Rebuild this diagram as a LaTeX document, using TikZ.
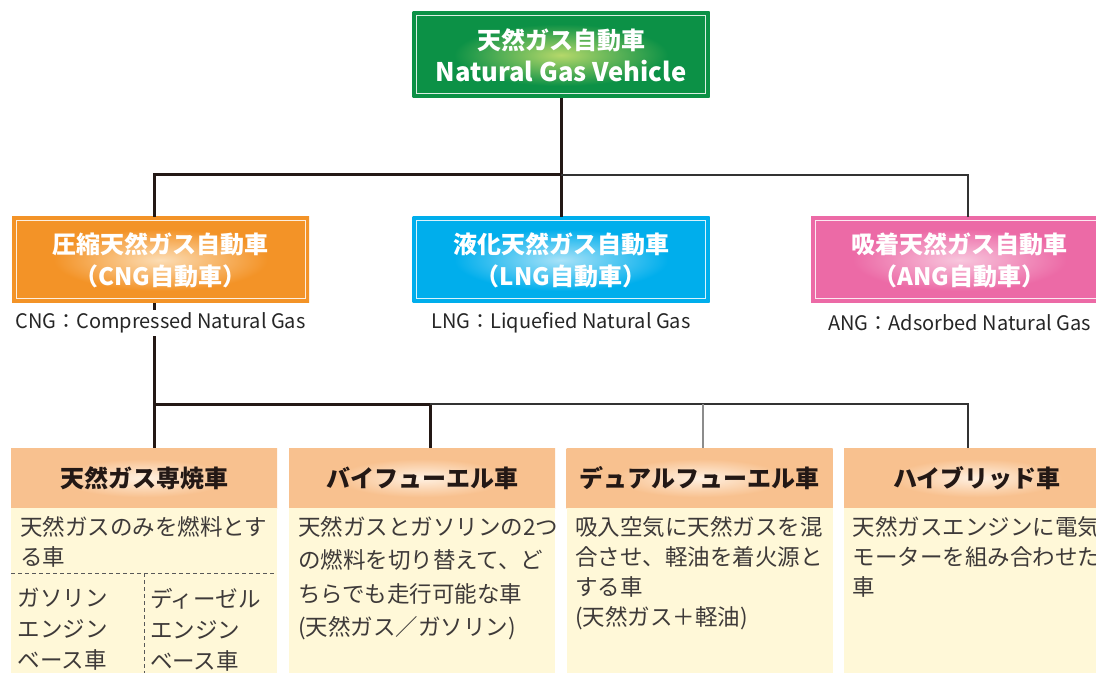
\documentclass[tikz,border=0pt]{standalone}
\usepackage{fontspec}
\setmainfont{Noto Sans CJK JP}
\usetikzlibrary{positioning}

\definecolor{ngvgreen}{HTML}{0C9146}
\definecolor{ngvgreenlt}{HTML}{B5D86A}
\definecolor{cngorange}{HTML}{F39327}
\definecolor{cngorangelt}{HTML}{FCDDB5}
\definecolor{lngblue}{HTML}{00AEEC}
\definecolor{lngbluelt}{HTML}{A8E2F8}
\definecolor{angpink}{HTML}{EC6AA6}
\definecolor{angpinklt}{HTML}{F8C6DD}
\definecolor{headpeach}{HTML}{F8C18F}
\definecolor{headpeachlt}{HTML}{FFF1E2}
\definecolor{bodycream}{HTML}{FFF8D8}
\definecolor{linedark}{HTML}{231815}
\definecolor{textgray}{HTML}{3E3A39}

\pgfdeclareradialshading{glowgreen}{\pgfpointorigin}{color(0bp)=(ngvgreenlt); color(18bp)=(ngvgreen); color(50bp)=(ngvgreen)}
\pgfdeclareradialshading{gloworange}{\pgfpointorigin}{color(0bp)=(cngorangelt); color(18bp)=(cngorange); color(50bp)=(cngorange)}
\pgfdeclareradialshading{glowblue}{\pgfpointorigin}{color(0bp)=(lngbluelt); color(18bp)=(lngblue); color(50bp)=(lngblue)}
\pgfdeclareradialshading{glowpink}{\pgfpointorigin}{color(0bp)=(angpinklt); color(18bp)=(angpink); color(50bp)=(angpink)}
\pgfdeclareradialshading{glowpeach}{\pgfpointorigin}{color(0bp)=(headpeachlt); color(16bp)=(headpeach); color(50bp)=(headpeach)}

\begin{document}
\begin{tikzpicture}[x=0.5pt,y=-0.5pt,
  every node/.style={outer sep=0pt},
  kind/.style={minimum width=148.5pt,minimum height=43pt,align=center,text=white,
    font=\bfseries\fontsize{12}{16}\selectfont,
    path picture={\draw[white,line width=0.5pt,opacity=0.85]
      ([shift={(2pt,-2pt)}]path picture bounding box.north west) rectangle
      ([shift={(-2pt,2pt)}]path picture bounding box.south east);}},
  capt/.style={fill=white,inner sep=1.5pt,text=black!85,font=\fontsize{10}{11}\selectfont},
  hdr/.style={minimum width=133pt,minimum height=30pt,shading=glowpeach,text=linedark,
    font=\bfseries\fontsize{12}{14}\selectfont},
  bdy/.style={minimum width=133pt,minimum height=83pt,fill=bodycream},
  btxt/.style={anchor=north west,inner sep=0pt,align=left,text=textgray,
    font=\fontsize{11.25}{15}\selectfont},
  thickln/.style={line width=1.5pt,draw=linedark},
  thinln/.style={line width=0.6pt,draw=black!80},
  grayln/.style={line width=1pt,draw=black!45},
  dashln/.style={line width=0.5pt,draw=black!65,dash pattern=on 2pt off 1.5pt}]

\useasboundingbox (0,0) rectangle (1096,673);
\clip (0,0) rectangle (1096,673);

% first and second level
\node[kind,shading=glowgreen] (nat) at (561,55)
  {天然ガス自動車\\{\fontsize{12.8}{16}\selectfont Natural Gas Vehicle}};
\node[kind,shading=gloworange] (cng) at (160.5,260) {圧縮天然ガス自動車\\（CNG自動車）};
\node[kind,shading=glowblue] (lng) at (561,260) {液化天然ガス自動車\\（LNG自動車）};
\node[kind,shading=glowpink] (ang) at (959.5,260) {吸着天然ガス自動車\\（ANG自動車）};

% third level
\node[hdr] (dedi) at (144,478) {天然ガス専焼車};
\node[bdy,below=0pt of dedi] (dedib) {};
\node[hdr] (bifu) at (422,478) {バイフューエル車};
\node[bdy,below=0pt of bifu] (bifub) {};
\node[hdr] (dual) at (699.5,478) {デュアルフューエル車};
\node[bdy,below=0pt of dual] (dualb) {};
\node[hdr] (hyb) at (977,478) {ハイブリッド車};
\node[bdy,below=0pt of hyb] (hybb) {};

% junctions
\coordinate (t0) at (561,175);
\coordinate (t1) at (154,175);
\coordinate (t2) at (968,175);
\coordinate (b1) at (154,404);
\coordinate (b2) at (430,404);
\coordinate (b3) at (703,404);
\coordinate (b4) at (968,404);

\draw[thickln] (nat) -- (lng);
\draw[thickln] (cng.north -| t1) -- (t1) -- (t0);
\draw[thinln] (t0) -- (t2) -- (t2 |- ang.north);

\draw[thickln] (cng.south -| b1) -- (b1) -- (b2) -- (b2 |- bifu.north);
\draw[thickln] (b1) -- (b1 |- dedi.north);
\draw[thinln] (b2) -- (b4) -- (b4 |- hyb.north);
\draw[grayln] (b3) -- (b3 |- dual.north);

\node[capt] (cngcap) at ([yshift=-10pt]cng.south) {CNG：Compressed Natural Gas};
\node[capt] (lngcap) at ([yshift=-10pt]lng.south) {LNG：Liquefied Natural Gas};
\node[capt] (angcap) at ([yshift=-10pt]ang.south) {ANG：Adsorbed Natural Gas};

% texts
\node[btxt] (dedit) at ([shift={(4.5pt,-4pt)}]dedib.north west) {天然ガスのみを燃料とす\\る車};
\coordinate (dsep) at (144,573);
\draw[dashln] (dedib.west |- dsep) -- (dedib.east |- dsep);
\draw[dashln] (dsep) -- (dsep |- dedib.south);
\node[btxt,font=\fontsize{11.25}{15.5}\selectfont] (gast) at (18,588) {ガソリン\\エンジン\\ベース車};
\node[btxt,font=\fontsize{11.25}{15.5}\selectfont] (dslt) at (150,588) {ディーゼル\\エンジン\\ベース車};

\node[btxt,font=\fontsize{11.25}{16.75}\selectfont] (bifut) at ([shift={(4.5pt,-4pt)}]bifub.north west)
  {天然ガスとガソリンの2つ\\の燃料を切り替えて、ど\\ちらでも走行可能な車\\(天然ガス／ガソリン)};
\node[btxt] (dualt) at ([shift={(4.25pt,-4pt)}]dualb.north west)
  {吸入空気に天然ガスを混\\合させ、軽油を着火源と\\する車\\(天然ガス＋軽油)};
\node[btxt] (hybt) at ([shift={(4.25pt,-4pt)}]hybb.north west)
  {天然ガスエンジンに電気\\モーターを組み合わせた\\車};

\end{tikzpicture}
\end{document}
